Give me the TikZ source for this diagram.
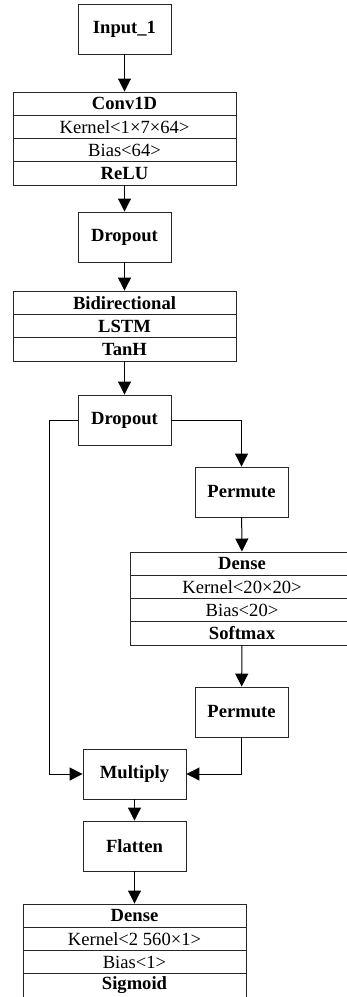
\documentclass[tikz,border=0pt]{standalone}
\usepackage{fontspec}
\setmainfont{Liberation Serif}
\usetikzlibrary{arrows.meta}
\begin{document}
\begin{tikzpicture}[x=1pt,y=-1pt,
  box/.style={draw=black!85,line width=0.9pt,minimum width=93pt,minimum height=50pt,inner sep=0pt,font=\fontsize{18.6}{20}\selectfont\bfseries},
  wbox/.style={box,minimum width=103pt},
  row/.style={draw=black!85,line width=0.9pt,minimum width=223pt,minimum height=23.25pt,inner sep=0pt,font=\fontsize{18.6}{20}\selectfont},
  brow/.style={row,font=\fontsize{18.6}{20}\selectfont\bfseries},
  arr/.style={line width=1pt,-{Triangle[length=13pt,width=13pt]}},
  ln/.style={line width=1pt}]
\useasboundingbox (0,0) rectangle (347,997);
\clip (0,0) rectangle (347,997);
% top column
\node[box] (in) at (124.5,29) {Input\_1};
\node[brow] (c1) at (124.5,103.6) {Conv1D};
\node[row]  (c2) at (124.5,126.9) {Kernel<1×7×64>};
\node[row]  (c3) at (124.5,150.1) {Bias<64>};
\node[brow] (c4) at (124.5,173.4) {ReLU};
\node[box] (d1) at (124.5,237) {Dropout};
\node[brow,minimum height=23.33pt] (b1) at (124.5,302.7) {Bidirectional};
\node[brow,minimum height=23.33pt] (b2) at (124.5,326) {LSTM};
\node[brow,minimum height=23.33pt] (b3) at (124.5,349.3) {TanH};
\node[box] (d2) at (124.5,420) {Dropout};
% right branch
\node[box] (p1) at (241.5,492) {Permute};
\node[brow,minimum width=224pt] (e1) at (242,563.6) {Dense};
\node[row,minimum width=224pt]  (e2) at (242,586.9) {Kernel<20×20>};
\node[row,minimum width=224pt]  (e3) at (242,610.1) {Bias<20>};
\node[brow,minimum width=224pt] (e4) at (242,633.4) {Softmax};
\node[box] (p2) at (241.5,712) {Permute};
% bottom
\node[wbox] (mu) at (134.5,774) {Multiply};
\node[wbox] (fl) at (134.5,846) {Flatten};
\node[brow] (f1) at (134.5,915.6) {Dense};
\node[row]  (f2) at (134.5,938.9) {Kernel<2~560×1>};
\node[row]  (f3) at (134.5,962.1) {Bias<1>};
\node[brow] (f4) at (134.5,985.4) {Sigmoid};
% connectors
\draw[arr] (in) -- (c1);
\draw[arr] (c4) -- (d1);
\draw[arr] (d1) -- (b1);
\draw[arr] (b3) -- (d2);
\draw[arr] (d2.west) -- ++(-28,0) |- (mu.west);
\draw[arr] (d2.east) -| (p1.north);
\draw[arr] (p1) -- (e1);
\draw[arr] (e4) -- (p2);
\draw[arr] (p2.south) |- (mu.east);
\draw[arr] (mu) -- (fl);
\draw[arr] (fl) -- (f1);
\end{tikzpicture}
\end{document}
